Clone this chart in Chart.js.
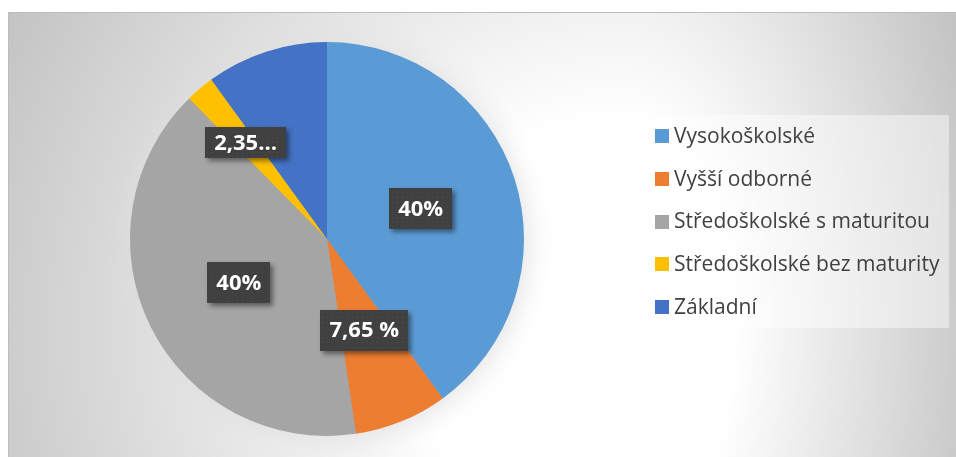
<!DOCTYPE html>
<html lang="cs">
<head>
<meta charset="utf-8">
<title>Vzdělání</title>
<script src="https://cdn.jsdelivr.net/npm/chart.js@4.4.0/dist/chart.umd.min.js"></script>
<style>
    html, body { margin: 0; padding: 0; background: #ffffff; }
    canvas { display: block; }
</style>
</head>
<body>
<canvas id="education-chart" width="956" height="457"></canvas>
<script>
// データ
const categories = ['Vysokoškolské', 'Vyšší odborné', 'Středoškolské s maturitou', 'Středoškolské bez maturity', 'Základní'];
const shares = [40, 7.65, 40, 2.35, 10];
const valueLabels = ['40%', '7,65 %', '40%', '2,35…', null];

// 見た目
const sliceColors = ['#5B9BD5', '#ED7D31', '#A5A5A5', '#FFC000', '#4472C4'];
const labelRadius = [0.5, 0.5, 0.5, 0.64, 0.5];
const labelBoxHeight = [41, 41, 41, 31, 41];

const chartCanvas = document.getElementById('education-chart');

/**
 * 背景のグラデーションと枠
 */
const backgroundPlugin = {
    id: 'frameBackground',
    beforeDraw(chart) {
        const ctx = chart.ctx;
        const x0 = 8, y0 = 12, x1 = chart.width, y1 = chart.height;
        const cx = 620, cy = 330, ry = 700;
        ctx.save();
        ctx.fillStyle = '#ffffff';
        ctx.fillRect(0, 0, chart.width, chart.height);
        // 左右で横方向の広がりを変える
        [[x0, cx, 700], [cx, x1, 380]].forEach(([a, b, rx]) => {
            ctx.save();
            ctx.beginPath();
            ctx.rect(a, y0, b - a, y1 - y0);
            ctx.clip();
            ctx.translate(cx, cy);
            ctx.scale(rx / ry, 1);
            const g = ctx.createRadialGradient(0, 0, 0, 0, 0, ry);
            g.addColorStop(0, '#ffffff');
            g.addColorStop(0.3, '#ffffff');
            g.addColorStop(1, '#c2c2c2');
            ctx.fillStyle = g;
            ctx.fillRect(-3000, -3000, 6000, 6000);
            ctx.restore();
        });
        ctx.strokeStyle = '#bdbdbd';
        ctx.lineWidth = 1;
        ctx.beginPath();
        ctx.moveTo(x0 + 0.5, y1);
        ctx.lineTo(x0 + 0.5, y0 + 0.5);
        ctx.lineTo(x1, y0 + 0.5);
        ctx.stroke();
        ctx.restore();
    }
};

/**
 * 円グラフの影
 */
const pieShadowPlugin = {
    id: 'pieShadow',
    beforeDatasetsDraw(chart) {
        const arc = chart.getDatasetMeta(0).data[0];
        if (!arc) return;
        const ctx = chart.ctx;
        ctx.save();
        ctx.shadowColor = 'rgb(222, 222, 222)';
        ctx.shadowBlur = 30;
        ctx.shadowOffsetX = 2;
        ctx.shadowOffsetY = 3;
        ctx.beginPath();
        ctx.arc(arc.x, arc.y, arc.outerRadius - 1, 0, Math.PI * 2);
        ctx.fillStyle = '#a5a5a5';
        ctx.fill();
        ctx.restore();
    }
};

// ラベル背景のドット模様
function makeDotPattern(ctx) {
    const tile = document.createElement('canvas');
    tile.width = 5;
    tile.height = 5;
    const t = tile.getContext('2d');
    t.fillStyle = '#404040';
    t.fillRect(0, 0, 5, 5);
    t.fillStyle = '#4c4c4c';
    t.fillRect(2, 2, 1, 1);
    return ctx.createPattern(tile, 'repeat');
}

/**
 * データラベル (黒い箱 + 白文字)
 */
const valueLabelPlugin = {
    id: 'valueLabels',
    afterDatasetsDraw(chart) {
        const ctx = chart.ctx;
        const pattern = makeDotPattern(ctx);
        chart.getDatasetMeta(0).data.forEach((arc, i) => {
            const text = valueLabels[i];
            if (!text) return;
            const mid = (arc.startAngle + arc.endAngle) / 2;
            const r = arc.outerRadius * labelRadius[i];
            const lx = arc.x + Math.cos(mid) * r;
            const ly = arc.y + Math.sin(mid) * r;
            ctx.save();
            ctx.font = 'bold 22px "Open Sans"';
            const w = ctx.measureText(text).width + 18;
            const h = labelBoxHeight[i];
            ctx.shadowColor = 'rgba(0, 0, 0, 0.45)';
            ctx.shadowBlur = 5;
            ctx.shadowOffsetX = 3;
            ctx.shadowOffsetY = 3;
            ctx.fillStyle = pattern;
            ctx.fillRect(Math.round(lx - w / 2), Math.round(ly - h / 2), Math.round(w), h);
            ctx.shadowColor = 'transparent';
            ctx.fillStyle = '#ffffff';
            ctx.textAlign = 'center';
            ctx.textBaseline = 'middle';
            ctx.fillText(text, lx, ly + 1);
            ctx.restore();
        });
    }
};

/**
 * 凡例 (右側の枠付き)
 */
const legendPlugin = {
    id: 'boxLegend',
    afterDraw(chart) {
        const ctx = chart.ctx;
        const colors = chart.data.datasets[0].backgroundColor;
        ctx.save();
        ctx.fillStyle = 'rgba(255, 255, 255, 0.45)';
        ctx.fillRect(642, 115, 307, 213);
        ctx.font = '21px "Open Sans"';
        ctx.textBaseline = 'middle';
        chart.data.labels.forEach((label, i) => {
            const y = 136 + i * 42.75;
            ctx.fillStyle = colors[i];
            ctx.fillRect(655, Math.round(y - 7), 14, 14);
            ctx.fillStyle = '#404040';
            ctx.fillText(label, 674, y + 1);
        });
        ctx.restore();
    }
};

const educationChart = new Chart(chartCanvas, {
    type: 'pie',
    data: {
        labels: categories,
        datasets: [{
            data: shares,
            backgroundColor: sliceColors,
            borderWidth: 0,
            hoverOffset: 0
        }]
    },
    options: {
        responsive: false,
        animation: false,
        devicePixelRatio: 1,
        layout: { padding: { left: 130, right: 432, top: 42, bottom: 21 } },
        plugins: {
            legend: { display: false },
            tooltip: { enabled: false }
        }
    },
    plugins: [backgroundPlugin, pieShadowPlugin, valueLabelPlugin, legendPlugin]
});
</script>
</body>
</html>
